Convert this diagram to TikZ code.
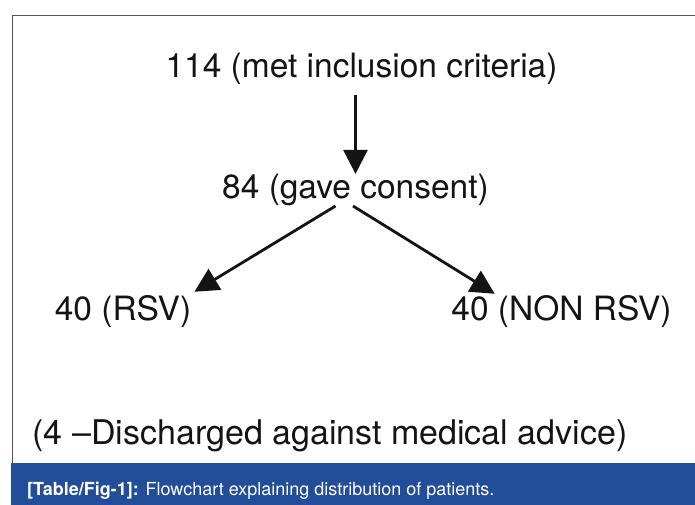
\documentclass[tikz,border=0pt]{standalone}
\usepackage{fontspec}
\setmainfont{TeX Gyre Heros}
\usetikzlibrary{arrows.meta}
\definecolor{band}{RGB}{34,77,153}
\definecolor{framec}{RGB}{85,85,85}
\definecolor{inkc}{RGB}{20,20,20}
\begin{document}
\begin{tikzpicture}[x=1pt,y=-1pt,
  lbl/.style={font=\fontsize{33.5}{40}\selectfont, anchor=base, inner sep=2pt, text=inkc},
  arr/.style={draw=inkc, line width=2.8pt, -{Triangle[length=24pt,width=24pt]}},
  caption/.style={font=\fontsize{18}{22}\selectfont, anchor=base west, inner sep=0pt, text=white}
]
\useasboundingbox (0,0) rectangle (695,505);
\fill[white] (0,0) rectangle (695,505);
\draw[framec, line width=1.5pt] (12.5,463) -- (12.5,15.5) -- (695,15.5);
\fill[band] (11,463) rectangle (695,505);

\node[lbl] (n114) at (361.5,77.3) {114 (met inclusion criteria)};
\node[lbl] (n84) at (355.5,198.5) {84 (gave consent)};
\node[lbl] (nrsv) at (123,320) {40 (RSV)};
\node[lbl] (nnon) at (561.5,320) {40 (NON RSV)};
\node[lbl, font=\fontsize{34}{40}\selectfont] (ndis) at (330,444) {(4 –Discharged against medical advice)};
\node[caption] (cap) at (27,495) {\textbf{[Table/Fig-1]:} Flowchart explaining distribution of patients.};

\draw[arr, shorten <=8pt, shorten >=-2pt] (n114.south -| n84.north) -- (n84.north);
\draw[arr] ([xshift=-20pt,yshift=2pt]n84.south) -- ([xshift=1pt,yshift=1pt]nrsv.north east);
\draw[arr] ([xshift=-2.5pt,yshift=2pt]n84.south) -- ([xshift=45.5pt,yshift=-1pt]nnon.north west);
\end{tikzpicture}
\end{document}
